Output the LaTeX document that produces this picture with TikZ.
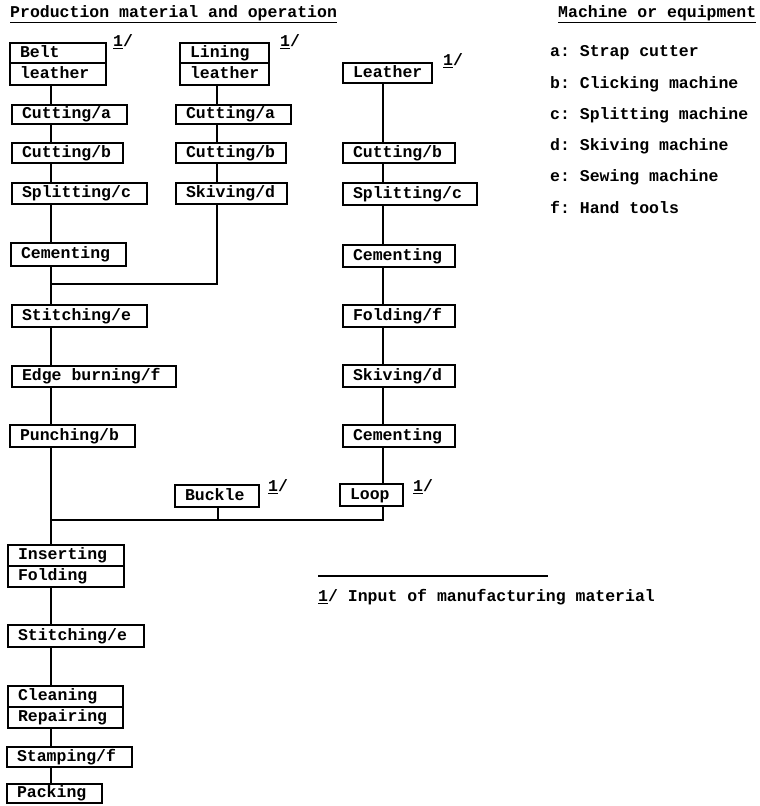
\documentclass[tikz,border=0pt]{standalone}
\usepackage{fontspec}
\setmonofont{Liberation Mono}
\newcommand{\mkbox}[6]{%
  \pgfmathsetmacro{\bxw}{#4-#2}%
  \pgfmathsetmacro{\bxh}{#5-#3}%
  \pgfmathsetmacro{\bxt}{#4-#2-20}%
  \node[opbox, minimum width=\bxw pt, minimum height=\bxh pt] (#1) at ({(#2+#4)/2},{(#3+#5)/2}) {\makebox[\bxt pt][l]{#6}};}
\begin{document}
\begin{tikzpicture}[x=1pt,y=-1pt,
  font=\ttfamily\bfseries\fontsize{16.5}{19}\selectfont,
  opbox/.style={draw, line width=1.6pt, inner sep=0pt, text height=10.5pt, text depth=2.5pt},
  conn/.style={line width=1.7pt},
  note/.style={anchor=west, inner sep=0pt},
  legend/.style={anchor=west, inner sep=0pt}]
\useasboundingbox (0,0) rectangle (760,806);

% headings
\node[note] (h1) at (10,14) {\underline{Production material and operation}};
\node[legend] (h2) at (558,14) {\underline{Machine or equipment}};

% left column
\mkbox{belt1}{10}{43}{106}{63}{Belt}
\mkbox{belt2}{10}{63}{106}{85}{leather}
\mkbox{lcuta}{12}{105}{127}{124}{Cutting/a}
\mkbox{lcutb}{12}{143}{123}{163}{Cutting/b}
\mkbox{lspl}{12}{183}{147}{204}{Splitting/c}
\mkbox{lcem}{11}{243}{126}{266}{Cementing}
\mkbox{lsti}{12}{305}{147}{327}{Stitching/e}
\mkbox{ledge}{12}{366}{176}{387}{Edge burning/f}
\mkbox{lpun}{10}{425}{135}{447}{Punching/b}
\mkbox{ins}{8}{545}{124}{566}{Inserting}
\mkbox{fold}{8}{566}{124}{587}{Folding}
\mkbox{sti2}{8}{625}{144}{647}{Stitching/e}
\mkbox{clean}{8}{686}{123}{707}{Cleaning}
\mkbox{rep}{8}{707}{123}{728}{Repairing}
\mkbox{stamp}{7}{747}{132}{767}{Stamping/f}
\mkbox{pack}{7}{784}{102}{803}{Packing}

% middle column
\mkbox{lin1}{180}{43}{269}{63}{Lining}
\mkbox{lin2}{180}{63}{269}{85}{leather}
\mkbox{mcuta}{176}{105}{291}{124}{Cutting/a}
\mkbox{mcutb}{176}{143}{286}{163}{Cutting/b}
\mkbox{mskv}{176}{183}{287}{204}{Skiving/d}
\mkbox{buck}{175}{485}{259}{507}{Buckle}

% right column
\mkbox{lea}{343}{63}{432}{83}{Leather}
\mkbox{rcutb}{343}{143}{455}{163}{Cutting/b}
\mkbox{rspl}{343}{183}{477}{205}{Splitting/c}
\mkbox{rcem}{343}{245}{455}{267}{Cementing}
\mkbox{rfold}{343}{305}{455}{327}{Folding/f}
\mkbox{rskv}{343}{365}{455}{387}{Skiving/d}
\mkbox{rcem2}{343}{425}{455}{447}{Cementing}
\mkbox{loop}{340}{484}{403}{506}{Loop}

% input marks
\node[note] (m1) at (113,42) {\underline{1}/};
\node[note] (m2) at (280,42) {\underline{1}/};
\node[note] (m3) at (443,61) {\underline{1}/};
\node[note] (m4) at (268,487) {\underline{1}/};
\node[note] (m5) at (413,487) {\underline{1}/};

% column axes
\coordinate (L) at (51,0);
\coordinate (M) at (217,0);
\coordinate (R) at (383,0);
\coordinate (B) at (218,0);
\coordinate (j1) at (51,284);
\coordinate (j2) at (51,520);

% connectors left
\draw[conn] (belt2.south -| L) -- (lcuta.north -| L);
\draw[conn] (lcuta.south -| L) -- (lcutb.north -| L);
\draw[conn] (lcutb.south -| L) -- (lspl.north -| L);
\draw[conn] (lspl.south -| L) -- (lcem.north -| L);
\draw[conn] (lcem.south -| L) -- (lsti.north -| L);
\draw[conn] (lsti.south -| L) -- (ledge.north -| L);
\draw[conn] (ledge.south -| L) -- (lpun.north -| L);
\draw[conn] (lpun.south -| L) -- (ins.north -| L);
\draw[conn] (fold.south -| L) -- (sti2.north -| L);
\draw[conn] (sti2.south -| L) -- (clean.north -| L);
\draw[conn] (rep.south -| L) -- (stamp.north -| L);
\draw[conn] (stamp.south -| L) -- (pack.north -| L);

% connectors middle
\draw[conn] (lin2.south -| M) -- (mcuta.north -| M);
\draw[conn] (mcuta.south -| M) -- (mcutb.north -| M);
\draw[conn] (mcutb.south -| M) -- (mskv.north -| M);
\draw[conn] (mskv.south -| M) |- (j1);

% connectors right
\draw[conn] (lea.south -| R) -- (rcutb.north -| R);
\draw[conn] (rcutb.south -| R) -- (rspl.north -| R);
\draw[conn] (rspl.south -| R) -- (rcem.north -| R);
\draw[conn] (rcem.south -| R) -- (rfold.north -| R);
\draw[conn] (rfold.south -| R) -- (rskv.north -| R);
\draw[conn] (rskv.south -| R) -- (rcem2.north -| R);
\draw[conn] (rcem2.south -| R) -- (loop.north -| R);
\draw[conn] (loop.south -| R) |- (j2);
\draw[conn] (buck.south -| B) -- (B |- j2);

% legend
\node[legend] (la) at (550,53) {a: Strap cutter};
\node[legend] (lb) at (550,84) {b: Clicking machine};
\node[legend] (lc) at (550,115) {c: Splitting machine};
\node[legend] (ld) at (550,146) {d: Skiving machine};
\node[legend] (le) at (550,177) {e: Sewing machine};
\node[legend] (lf) at (550,207) {f: Hand tools};

% footnote
\coordinate (fl) at (318,576);
\coordinate (fr) at (548,576);
\draw[line width=1.6pt] (fl) -- (fr);
\node[note] (fn) at (318,597) {\underline{1}/ Input of manufacturing material};
\end{tikzpicture}
\end{document}
